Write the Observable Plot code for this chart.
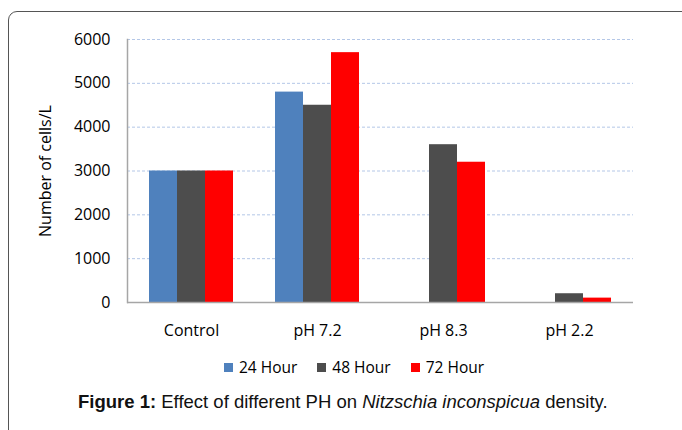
<!DOCTYPE html>
<html>
<head>
<meta charset="utf-8">
<script src="https://cdn.jsdelivr.net/npm/d3@7"></script>
<script src="https://cdn.jsdelivr.net/npm/@observablehq/plot@0.6"></script>
<style>
  html, body { margin: 0; padding: 0; background: #fff; }
  #wrap { position: relative; width: 682px; height: 430px; overflow: hidden; font-family: "Open Sans", sans-serif; }
  #frame { position: absolute; left: 8px; top: 11px; width: 720px; height: 500px; border: 1.5px solid #555; border-radius: 9px; box-sizing: border-box; }
  #chart { position: absolute; left: 0; top: 0; }
  #legend { position: absolute; left: 224px; top: 356px; display: flex; align-items: center; font-size: 15.5px; line-height: 22px; color: #000; white-space: nowrap; }
  #legend .item { display: flex; align-items: center; margin-right: 20px; }
  #legend .sw { width: 9px; height: 9px; margin-right: 6px; }
  #caption { position: absolute; left: 78px; top: 390px; font-family: "Liberation Sans", Arial, sans-serif; font-size: 18.5px; line-height: 24px; color: #111; white-space: nowrap; }
</style>
</head>
<body>
<div id="wrap">
  <div id="frame"></div>
  <div id="chart"></div>
  <div id="legend"></div>
  <div id="caption"><b>Figure 1:</b> Effect of different PH on <i>Nitzschia inconspicua</i> density.</div>
</div>
<script>
const categories = ["Control", "pH 7.2", "pH 8.3", "pH 2.2"];
const seriesNames = ["24 Hour", "48 Hour", "72 Hour"];
const seriesColors = ["#4F81BD", "#4D4D4D", "#FF0000"];
const hour24 = [3000, 4800, null, null];
const hour48 = [3000, 4500, 3600, 200];
const hour72 = [3000, 5700, 3200, 100];
const yTicks = [0, 1000, 2000, 3000, 4000, 5000, 6000];
const yLabel = "Number of cells/L";

const seriesValues = [hour24, hour48, hour72];
const rows = [];
seriesNames.forEach((s, si) => categories.forEach((c, ci) => {
  if (seriesValues[si][ci] != null) rows.push({category: c, series: s, si, value: seriesValues[si][ci]});
}));

const barW = 28;
const barMarks = seriesNames.map((s, si) => Plot.barY(rows.filter(d => d.si === si), {
  x: "category", y: "value", fill: seriesColors[si],
  insetLeft: barW * si, insetRight: barW * (seriesNames.length - 1 - si)
}));

const chart = Plot.plot({
  width: 682,
  height: 345,
  marginLeft: 127,
  marginRight: 49,
  marginTop: 39,
  marginBottom: 43,
  style: {fontFamily: "'Open Sans', sans-serif", fontSize: "16px", color: "#000", background: "transparent"},
  x: {domain: categories, paddingInner: 0.336, paddingOuter: 0.168, label: null},
  y: {domain: [0, 6000], label: null},
  marks: [
    Plot.gridY(yTicks.filter(t => t > 0), {stroke: "#B4C7E7", strokeOpacity: 1, strokeDasharray: "3,2", strokeWidth: 1}),
    ...barMarks,
    Plot.ruleY([0], {stroke: "#A6A6A6", strokeWidth: 1.5}),
    Plot.frame({anchor: "left", stroke: "#A6A6A6", strokeWidth: 1.5}),
    Plot.axisY({ticks: yTicks, tickSize: 0, tickPadding: 17, tickFormat: d => String(d), label: null}),
    Plot.axisX({tickSize: 0, tickPadding: 22, label: null}),
    Plot.text([yLabel], {frameAnchor: "left", textAnchor: "middle", rotate: -90, dx: -82, fontSize: 16, fill: "#000"})
  ]
});
document.getElementById("chart").appendChild(chart);

const legend = document.getElementById("legend");
seriesNames.forEach((s, i) => {
  const item = document.createElement("div");
  item.className = "item";
  const sw = document.createElement("div");
  sw.className = "sw";
  sw.style.background = seriesColors[i];
  const t = document.createElement("span");
  t.textContent = s;
  item.appendChild(sw); item.appendChild(t);
  legend.appendChild(item);
});
</script>
</body>
</html>
